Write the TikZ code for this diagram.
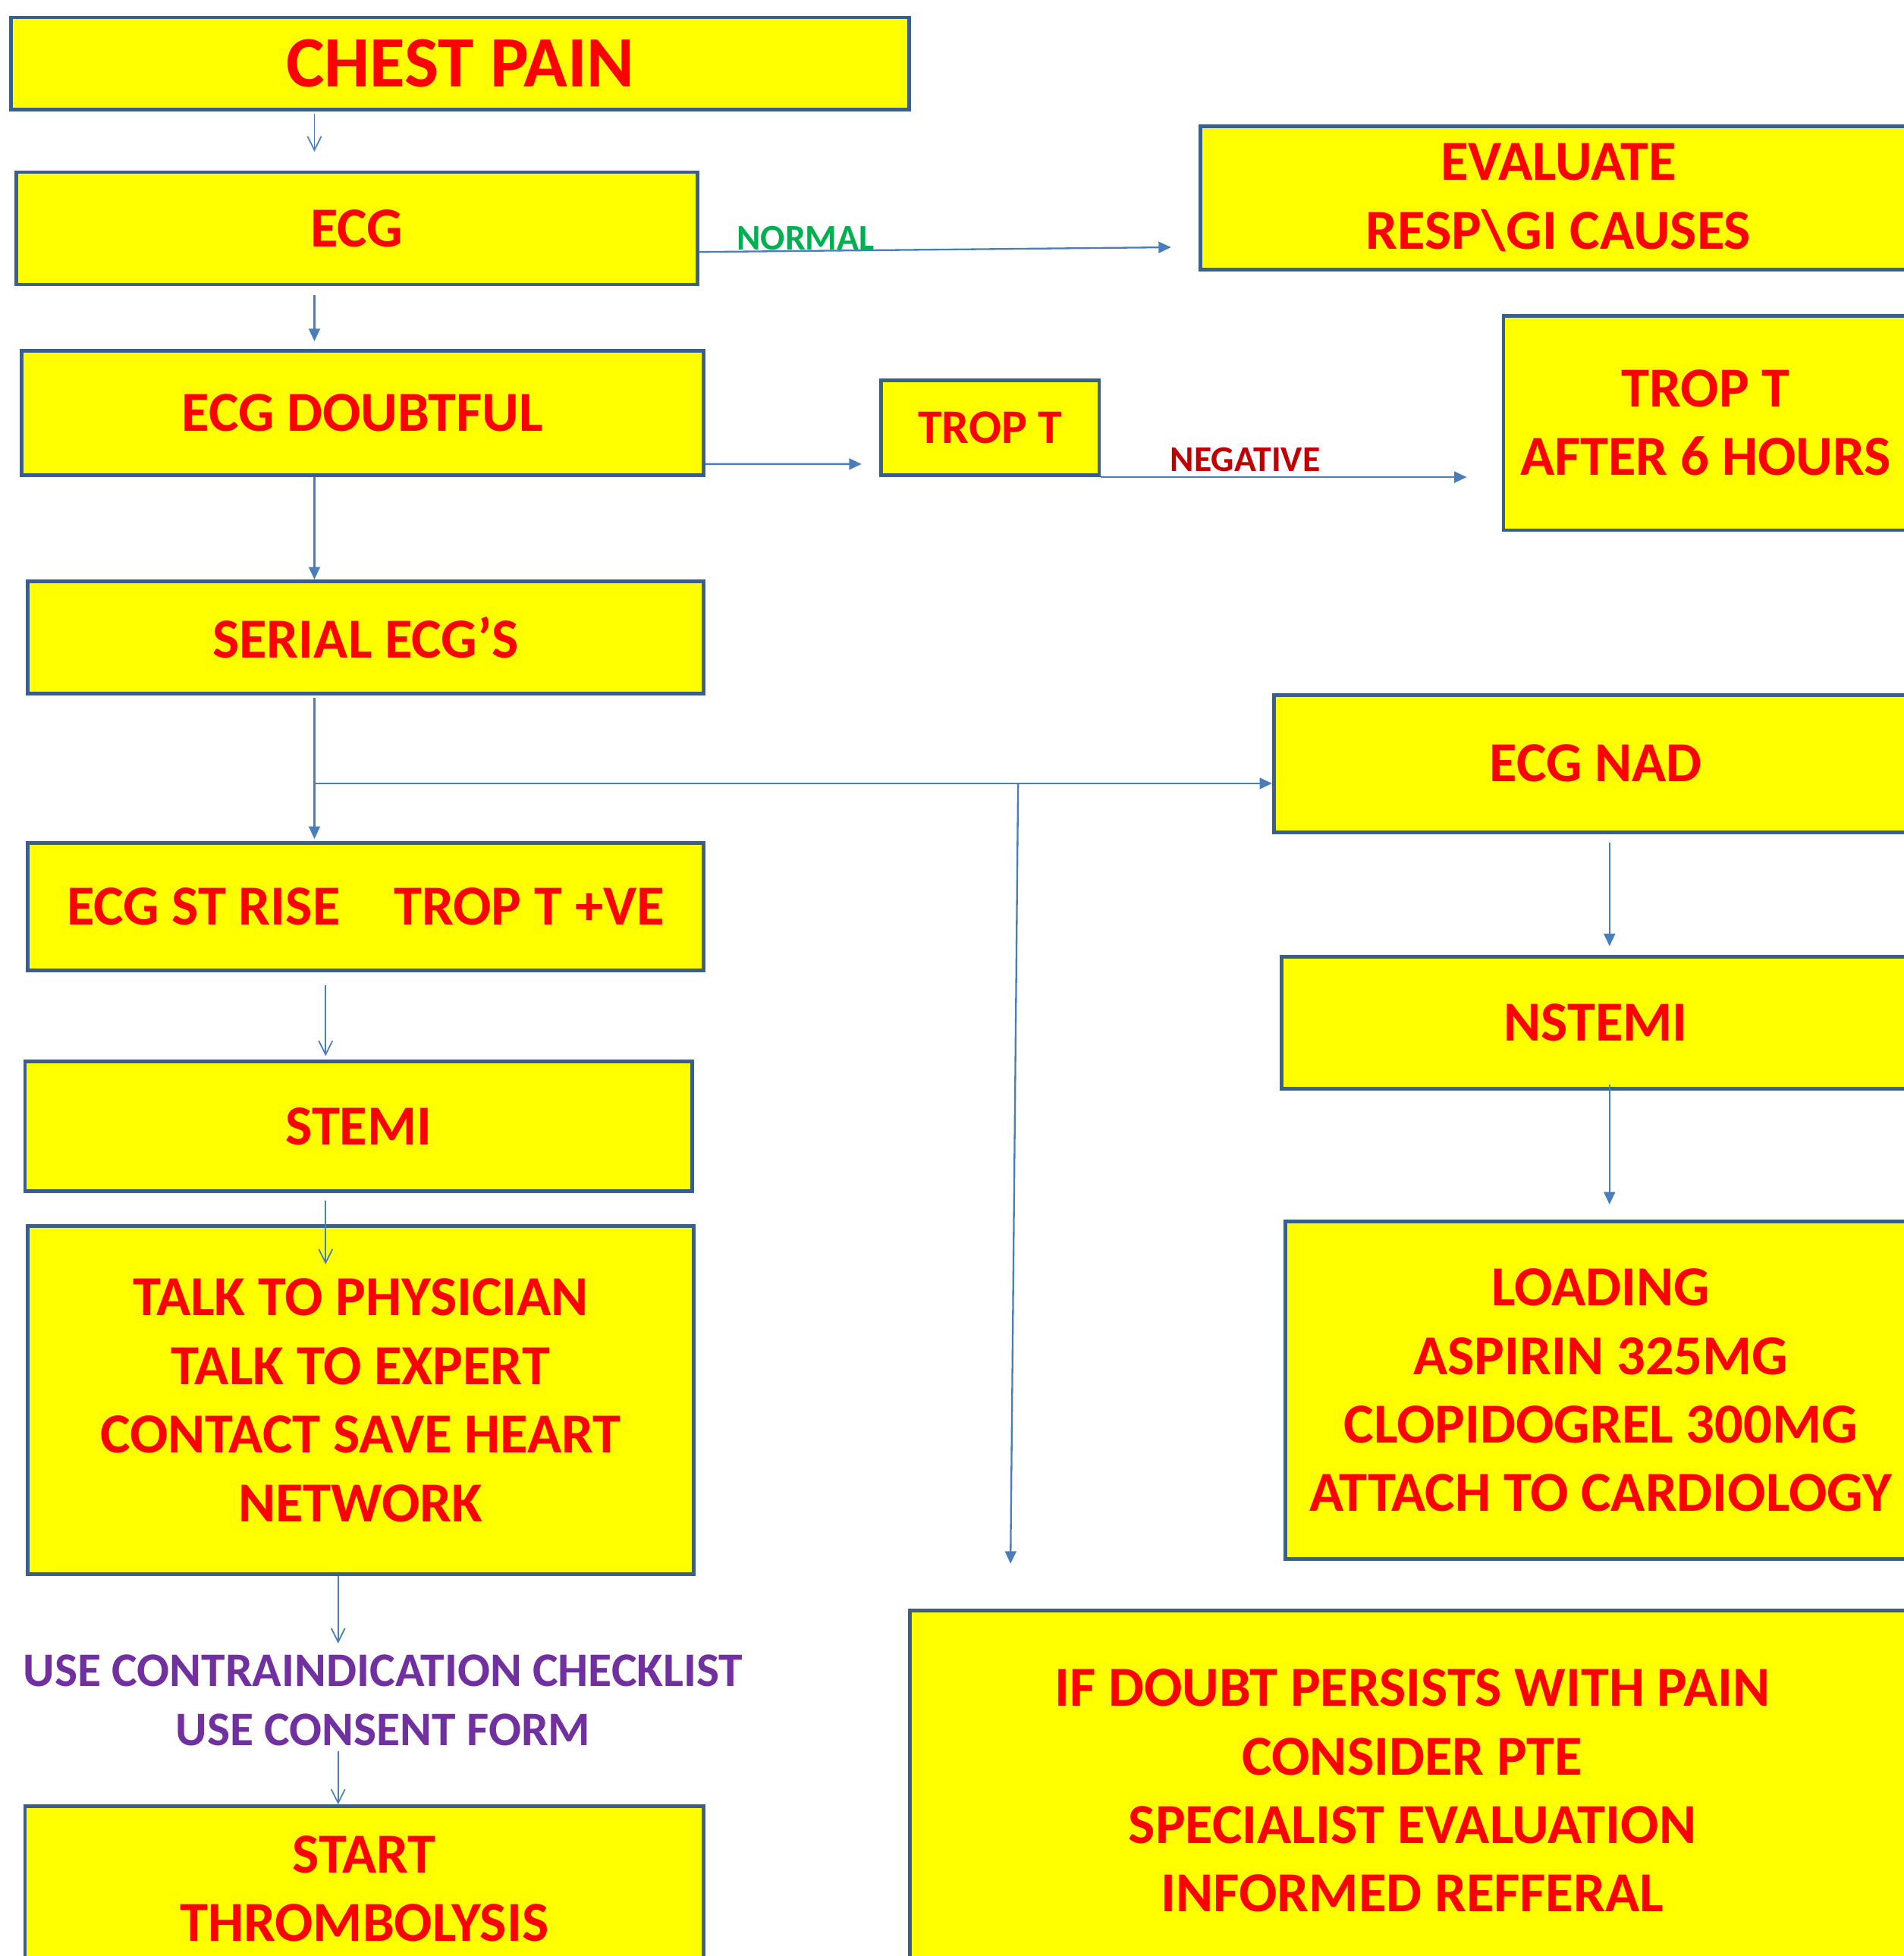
\documentclass[tikz,border=0pt]{standalone}
\usepackage{fontspec}
\setmainfont{Carlito}
\usetikzlibrary{arrows.meta}
\usetikzlibrary{calc}
\usepackage{xcolor}
\definecolor{boxfill}{HTML}{FFFF00}
\definecolor{boxline}{HTML}{3A5F8B}
\definecolor{arrowblue}{HTML}{4A7EBB}
\definecolor{textred}{HTML}{FF0000}
\definecolor{normalgreen}{HTML}{00B050}
\definecolor{negred}{HTML}{C00000}
\definecolor{checkpurple}{HTML}{7030A0}

\begin{document}
\begin{tikzpicture}[x=0.02cm, y=-0.02cm,
  box/.style={draw=boxline, line width=1.7pt, fill=boxfill, text=textred, align=center, inner sep=0pt,
    font={\fontsize{25.8}{31.3}\selectfont\bfseries}},
  openarrow/.style={draw=arrowblue, line width=0.6pt, -{Straight Barb[length=0.22cm,width=0.22cm]}},
  fillarrow/.style={draw=arrowblue, line width=0.8pt, -{Triangle[length=0.2cm,width=0.18cm]}},
  tag/.style={inner sep=0pt, font={\fontsize{16.5}{20}\selectfont\bfseries}}
]
\clip (0,0) rectangle (1526,1568);
\fill[white] (0,0) rectangle (1526,1568);
% left column
\node[box, minimum width=14.4cm, minimum height=1.48cm, font={\fontsize{33}{40}\selectfont\bfseries}] (chest) at (369,51) {CHEST PAIN};
\node[box, minimum width=10.92cm, minimum height=1.8cm] (ecg) at (286,183) {ECG};
\node[box, minimum width=10.94cm, minimum height=2cm] (doubtful) at (290.5,331) {ECG DOUBTFUL};
\node[box, minimum width=10.84cm, minimum height=1.8cm] (serial) at (293,511) {SERIAL ECG’S};
\node[box, minimum width=10.84cm, minimum height=2.04cm] (strise) at (293,727) {ECG ST RISE\hspace{0.95em}TROP T +VE};
\node[box, minimum width=10.7cm, minimum height=2.08cm] (stemi) at (287.5,903) {STEMI};
\node[box, minimum width=10.68cm, minimum height=5.58cm] (talk) at (289,1122.5) {TALK TO PHYSICIAN\\TALK TO EXPERT\\CONTACT SAVE HEART\\NETWORK};
\node[text=checkpurple, align=center, inner sep=0.18cm, font={\fontsize{22}{26.7}\selectfont\bfseries}] (check) at (307,1363) {USE CONTRAINDICATION CHECKLIST\\USE CONSENT FORM};
\node[box, minimum width=10.88cm, minimum height=2.64cm] (start) at (292,1514) {START\\THROMBOLYSIS};
% middle and right
\node[box, minimum width=11.48cm, minimum height=2.3cm] (evaluate) at (1249,158.5) {EVALUATE\\RESP\textbackslash GI CAUSES};
\node[box, minimum width=3.5cm, minimum height=1.52cm, font={\fontsize{22}{27}\selectfont\bfseries}] (trop) at (793.5,343) {TROP T};
\node[box, minimum width=6.48cm, minimum height=3.44cm] (tropsix) at (1367,339) {TROP T\\AFTER 6 HOURS};
\node[box, minimum width=10.32cm, minimum height=2.2cm] (nad) at (1279,612) {ECG NAD};
\node[box, minimum width=10.08cm, minimum height=2.12cm] (nstemi) at (1279,820) {NSTEMI};
\node[box, minimum width=10.12cm, minimum height=5.42cm] (loading) at (1283,1114.5) {LOADING\\ASPIRIN 325MG\\CLOPIDOGREL 300MG\\ATTACH TO CARDIOLOGY};
\node[box, minimum width=16.12cm, minimum height=5.78cm] (doubt) at (1132,1435.5) {IF DOUBT PERSISTS WITH PAIN\\CONSIDER PTE\\SPECIALIST EVALUATION\\INFORMED REFFERAL};

\coordinate (mainx) at (252,0);
\coordinate (stemix) at (261,0);
\coordinate (lysisx) at (271,0);
\coordinate (rightx) at (1290,0);
\coordinate (fork) at (252,628);
\coordinate (split) at (816,628);

% arrows
\draw[openarrow, shorten <=0.04cm, shorten >=0.3cm] (chest.south -| mainx) -- (ecg.north -| mainx);
\draw[fillarrow, shorten <=0.14cm, shorten >=0.12cm] (ecg.south -| mainx) -- (doubtful.north -| mainx);
\draw[fillarrow, shorten >=0.44cm] ([yshift=-0.38cm]ecg.east) -- ([yshift=-0.79cm]evaluate.west)
  node[tag, pos=0.213, above, text=normalgreen] {NORMAL};
\draw[fillarrow, shorten >=0.28cm] ([yshift=-0.82cm]doubtful.east) -- ([yshift=-0.58cm]trop.west);
\draw[fillarrow, shorten >=0.56cm] (trop.south east) -- (trop.south east -| tropsix.west)
  node[tag, pos=0.36, above=2pt, text=negred] {NEGATIVE};
\draw[fillarrow] (doubtful.south -| mainx) -- (serial.north -| mainx);
\draw[fillarrow, shorten <=0.04cm, shorten >=0.04cm] (serial.south -| mainx) -- (strise.north -| mainx);
\draw[fillarrow] (fork) -- (fork -| nad.west);
\draw[fillarrow, shorten >=0.72cm] (split) -- ([xshift=1.64cm]doubt.north west);
\draw[fillarrow, shorten <=0.14cm, shorten >=0.14cm] (nad.south -| rightx) -- (nstemi.north -| rightx);
\draw[fillarrow, shorten <=-0.1cm, shorten >=0.24cm] (nstemi.south -| rightx) -- (loading.north -| rightx);
\draw[openarrow, shorten <=0.2cm, shorten >=0.06cm] (strise.south -| stemix) -- (stemi.north -| stemix);
\draw[openarrow, shorten <=0.12cm, shorten >=-0.64cm] (stemi.south -| stemix) -- (talk.north -| stemix);
\draw[openarrow] (talk.south -| lysisx) -- (check.north -| lysisx);
\draw[openarrow, shorten <=-0.1cm] (check.south -| lysisx) -- (start.north -| lysisx);
\end{tikzpicture}
\end{document}
